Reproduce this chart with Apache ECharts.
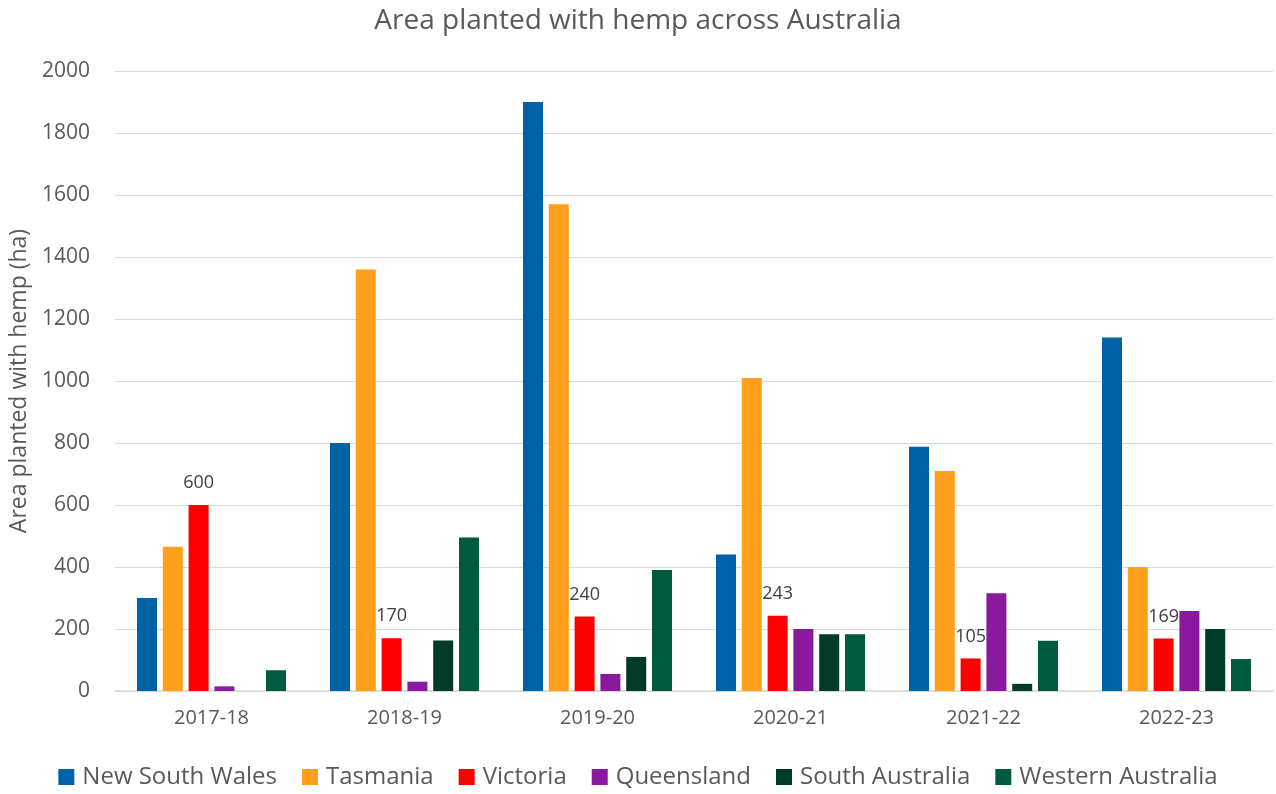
<!DOCTYPE html>
<html><head><meta charset="utf-8">
<script src="https://cdn.jsdelivr.net/npm/echarts@6/dist/echarts.min.js"></script>
<style>html,body{margin:0;padding:0;background:#fff}#c{width:1276px;height:794px}</style>
</head><body><div id="c"></div>
<script>
const categories = ['2017-18','2018-19','2019-20','2020-21','2021-22','2022-23'];
const nsw = [300, 800, 1900, 440, 788, 1140];
const tas = [465, 1360, 1570, 1010, 710, 400];
const vic = [600, 170, 240, 243, 105, 169];
const qld = [15, 30, 55, 200, 315, 258];
const sa  = [0, 163, 110, 183, 23, 200];
const wa  = [67, 495, 390, 183, 162, 103];
const yTicks = [0, 200, 400, 600, 800, 1000, 1200, 1400, 1600, 1800, 2000];

const FONT = '"Open Sans", "Noto Sans", sans-serif';
const names = ['New South Wales','Tasmania','Victoria','Queensland','South Australia','Western Australia'];
const colors = ['#0062A7','#FF9F1C','#FF0000','#8A1A9D','#003B2A','#005A3F'];
const data = [nsw, tas, vic, qld, sa, wa];

const chart = echarts.init(document.getElementById('c'));
chart.setOption({
  animation: false,
  textStyle: {fontFamily: FONT},
  title: {text: 'Area planted with hemp across Australia', left: 'center', top: 2,
    textStyle: {fontFamily: FONT, fontSize: 28, fontWeight: 'normal', color: '#595959'}},
  legend: {bottom: 0, left: 'center', itemWidth: 16, itemHeight: 16, itemGap: 25,
    icon: 'rect', textStyle: {fontFamily: FONT, fontSize: 24, color: '#595959', padding: [0,0,0,3]}},
  grid: {left: 115, right: 3, top: 71, bottom: 103, containLabel: false},
  xAxis: {type: 'category', data: categories,
    axisLine: {lineStyle: {color: '#d9d9d9', width: 1.5}}, axisTick: {show: false},
    axisLabel: {fontFamily: FONT, fontSize: 20, color: '#595959', margin: 17}},
  yAxis: {type: 'value', min: yTicks[0], max: yTicks[yTicks.length-1], interval: 200,
    name: 'Area planted with hemp (ha)', nameLocation: 'middle', nameGap: 82,
    nameTextStyle: {fontFamily: FONT, fontSize: 23, color: '#595959'},
    axisLabel: {fontFamily: FONT, fontSize: 21, color: '#595959', margin: 25, formatter: v => String(v)},
    splitLine: {lineStyle: {color: '#d9d9d9', width: 1.2}},
    axisLine: {show: false}, axisTick: {show: false}},
  series: data.map((d, i) => ({
    name: names[i], type: 'bar', data: d, barWidth: 20, barGap: '29%', barCategoryGap: '23%',
    itemStyle: {color: colors[i]},
    label: i === 2 ? {show: true, position: 'top', distance: 13, fontFamily: FONT, fontSize: 18, color: '#404040'} : {show: false}
  }))
});
</script></body></html>
